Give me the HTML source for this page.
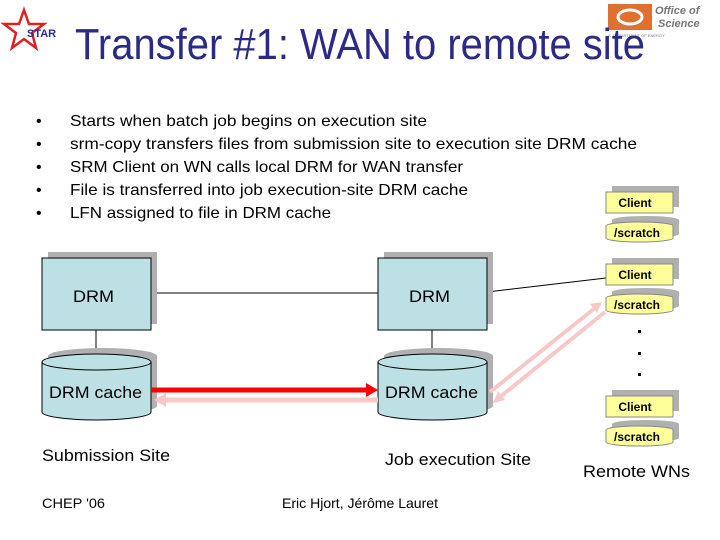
<!DOCTYPE html>
<html><head><meta charset="utf-8"><style>
html,body{margin:0;padding:0;background:#fff;width:720px;height:540px;overflow:hidden}
svg{display:block;font-family:"Liberation Sans",sans-serif}
</style></head><body>
<svg width="720" height="540" viewBox="0 0 720 540">
<!-- STAR logo -->
<polygon points="24,10 29,24 44,24 32,33 36,48 24,39 12,48 16,33 4,24 19,24" fill="#fff" stroke="#d22" stroke-width="2.5"/>
<text x="27" y="37" font-size="11" font-weight="bold" fill="#2a2a90">STAR</text>
<!-- Office of Science logo -->
<rect x="608" y="4" width="44" height="26" fill="#e07030"/>
<ellipse cx="630" cy="17" rx="12" ry="7" fill="none" stroke="#fff" stroke-width="3"/>
<text x="655" y="14" font-size="11" font-weight="bold" font-style="italic" fill="#777">Office of</text>
<text x="658" y="27" font-size="11" font-weight="bold" font-style="italic" fill="#777">Science</text>
<text x="608" y="37" font-size="4" fill="#777">S. DEPARTMENT OF ENERGY</text>
<!-- title -->
<text x="75" y="59" font-size="44" fill="#2b2b85" textLength="570" lengthAdjust="spacingAndGlyphs">Transfer #1: WAN to remote site</text>
<!-- bullets -->
<g font-size="16" fill="#000">
<text x="36" y="126">•</text><text x="70" y="126" textLength="357" lengthAdjust="spacingAndGlyphs">Starts when batch job begins on execution site</text>
<text x="36" y="149">•</text><text x="70" y="149" textLength="567" lengthAdjust="spacingAndGlyphs">srm-copy transfers files from submission site to execution site DRM cache</text>
<text x="36" y="172">•</text><text x="70" y="172" textLength="393" lengthAdjust="spacingAndGlyphs">SRM Client on WN calls local DRM for WAN transfer</text>
<text x="36" y="195">•</text><text x="70" y="195" textLength="398" lengthAdjust="spacingAndGlyphs">File is transferred into job execution-site DRM cache</text>
<text x="36" y="218">•</text><text x="70" y="218" textLength="261" lengthAdjust="spacingAndGlyphs">LFN assigned to file in DRM cache</text>
</g>
<!-- connecting lines -->
<line x1="151" y1="293" x2="378" y2="293" stroke="#000" stroke-width="1"/>
<line x1="487" y1="292" x2="606" y2="278" stroke="#000" stroke-width="1"/>
<!-- DRM boxes -->
<g>
<rect x="48" y="252" width="109" height="72" fill="#b0b0b0"/>
<rect x="42" y="258" width="109" height="72" fill="#bde0e4" stroke="#000"/>
<text x="73" y="302" font-size="17" textLength="41" lengthAdjust="spacingAndGlyphs">DRM</text>
<line x1="96" y1="330" x2="96" y2="355" stroke="#000"/>
<rect x="384" y="252" width="109" height="72" fill="#b0b0b0"/>
<rect x="378" y="258" width="109" height="72" fill="#bde0e4" stroke="#000"/>
<text x="409" y="302" font-size="17" textLength="41" lengthAdjust="spacingAndGlyphs">DRM</text>
<line x1="432" y1="330" x2="432" y2="355" stroke="#000"/>
</g>
<!-- cylinders -->
<g>
<path d="M48,356 A54.5,8 0 0 1 157,356 V406 A54.5,8 0 0 1 48,406Z" fill="#b0b0b0"/>
<path d="M42,362 A54.5,8 0 0 1 151,362 V412 A54.5,8 0 0 1 42,412Z" fill="#bde0e4" stroke="#000"/>
<path d="M42,362 A54.5,8 0 0 0 151,362" fill="none" stroke="#000"/>
<text x="49" y="398" font-size="17" textLength="93" lengthAdjust="spacingAndGlyphs">DRM cache</text>
<path d="M384,356 A54.5,8 0 0 1 493,356 V406 A54.5,8 0 0 1 384,406Z" fill="#b0b0b0"/>
<path d="M378,362 A54.5,8 0 0 1 487,362 V412 A54.5,8 0 0 1 378,412Z" fill="#bde0e4" stroke="#000"/>
<path d="M378,362 A54.5,8 0 0 0 487,362" fill="none" stroke="#000"/>
<text x="385" y="398" font-size="17" textLength="93" lengthAdjust="spacingAndGlyphs">DRM cache</text>
</g>
<!-- arrows -->
<line x1="151" y1="390" x2="370" y2="390" stroke="#f00" stroke-width="5"/>
<polygon points="366,383 378,390 366,397" fill="#f00"/>
<line x1="165" y1="400" x2="378" y2="400" stroke="#f8c8c8" stroke-width="5"/>
<polygon points="166,393 154,400 166,407" fill="#f8c8c8"/>
<line x1="490" y1="392" x2="595" y2="308" stroke="#f8c8c8" stroke-width="4"/>
<polygon points="602,302 590,304 597,313" fill="#f8c8c8"/>
<line x1="605" y1="312" x2="500" y2="397" stroke="#f8c8c8" stroke-width="4"/>
<polygon points="493,403 505,400 498,391" fill="#f8c8c8"/>
<!-- clients -->
<g font-size="12">
<g transform="translate(0,0)">
<rect x="612" y="186" width="67" height="21" fill="#b0b0b0"/>
<rect x="606" y="192" width="67" height="21" fill="#ffff99" stroke="#888"/>
<text x="635" y="207" text-anchor="middle" font-weight="bold">Client</text>
<path d="M612,220 A33.5,4 0 0 1 679,220 V234 A33.5,4 0 0 1 612,234Z" fill="#b0b0b0"/>
<path d="M606,226 A33.5,4 0 0 1 673,226 V238 A33.5,4 0 0 1 606,238Z" fill="#ffff99" stroke="#888"/>
<text x="637" y="237" text-anchor="middle" font-weight="bold">/scratch</text>
</g>
<g transform="translate(0,72)">
<rect x="612" y="186" width="67" height="21" fill="#b0b0b0"/>
<rect x="606" y="192" width="67" height="21" fill="#ffff99" stroke="#888"/>
<text x="635" y="207" text-anchor="middle" font-weight="bold">Client</text>
<path d="M612,220 A33.5,4 0 0 1 679,220 V234 A33.5,4 0 0 1 612,234Z" fill="#b0b0b0"/>
<path d="M606,226 A33.5,4 0 0 1 673,226 V238 A33.5,4 0 0 1 606,238Z" fill="#ffff99" stroke="#888"/>
<text x="637" y="237" text-anchor="middle" font-weight="bold">/scratch</text>
</g>
<g transform="translate(0,204)">
<rect x="612" y="186" width="67" height="21" fill="#b0b0b0"/>
<rect x="606" y="192" width="67" height="21" fill="#ffff99" stroke="#888"/>
<text x="635" y="207" text-anchor="middle" font-weight="bold">Client</text>
<path d="M612,220 A33.5,4 0 0 1 679,220 V234 A33.5,4 0 0 1 612,234Z" fill="#b0b0b0"/>
<path d="M606,226 A33.5,4 0 0 1 673,226 V238 A33.5,4 0 0 1 606,238Z" fill="#ffff99" stroke="#888"/>
<text x="637" y="237" text-anchor="middle" font-weight="bold">/scratch</text>
</g>
</g>
<rect x="638" y="330" width="3" height="3" fill="#000"/>
<rect x="638" y="352" width="3" height="3" fill="#000"/>
<rect x="638" y="373" width="3" height="3" fill="#000"/>
<!-- labels -->
<text x="42" y="461" font-size="17" textLength="128" lengthAdjust="spacingAndGlyphs">Submission Site</text>
<text x="385" y="465" font-size="17" textLength="146" lengthAdjust="spacingAndGlyphs">Job execution Site</text>
<text x="583" y="477" font-size="17" textLength="107" lengthAdjust="spacingAndGlyphs">Remote WNs</text>
<text x="42" y="508" font-size="14" textLength="63" lengthAdjust="spacingAndGlyphs">CHEP '06</text>
<text x="282" y="508" font-size="14" textLength="156" lengthAdjust="spacingAndGlyphs">Eric Hjort, Jérôme Lauret</text>
</svg>
</body></html>
